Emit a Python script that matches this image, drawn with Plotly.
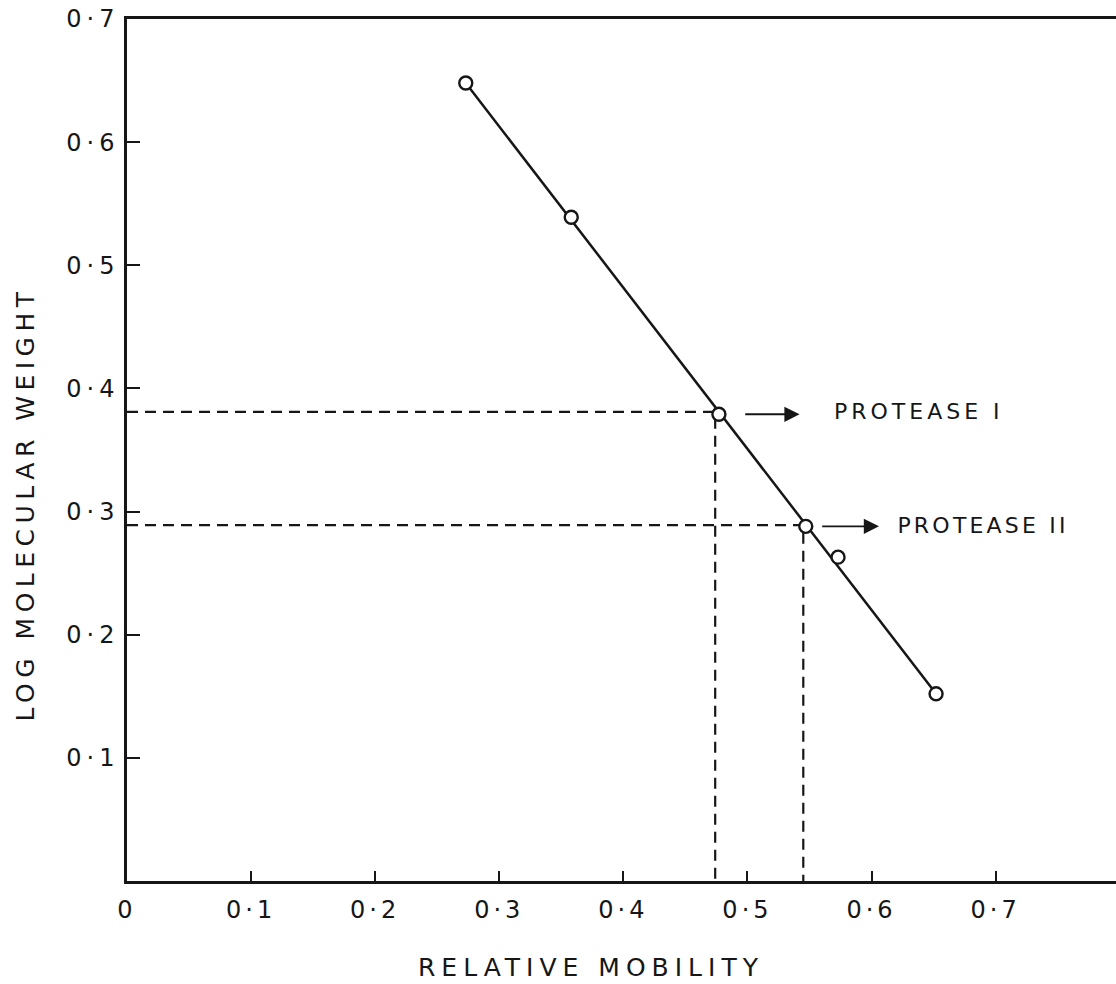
import plotly.graph_objects as go

# Calibration standards and the two proteases (relative mobility vs log molecular weight)
mobility = [0.273, 0.358, 0.477, 0.547, 0.573, 0.652]
log_mw = [0.648, 0.539, 0.379, 0.288, 0.263, 0.152]

# Read-off values for the two proteases
protease_names = ["PROTEASE I", "PROTEASE II"]
protease_mobility = [0.474, 0.545]
protease_log_mw = [0.381, 0.289]

x_ticks = [0, 0.1, 0.2, 0.3, 0.4, 0.5, 0.6, 0.7]
x_ticktext = ["0", "0·1", "0·2", "0·3", "0·4", "0·5", "0·6", "0·7"]
y_ticks = [0.1, 0.2, 0.3, 0.4, 0.5, 0.6, 0.7]
y_ticktext = ["0·1", "0·2", "0·3", "0·4", "0·5", "0·6", "0·7"]

x_title = "RELATIVE MOBILITY"
y_title = "LOG MOLECULAR WEIGHT"

INK = "#161616"
FONT = "DejaVu Sans"

fig = go.Figure()

# dashed read-off guides: from the y axis across to the line, then down to the x axis
for xm, ym in zip(protease_mobility, protease_log_mw):
    fig.add_trace(go.Scatter(
        x=[0, xm, xm], y=[ym, ym, 0], mode="lines",
        line=dict(color=INK, width=2.2, dash="11px,7px"),
        hoverinfo="skip",
    ))

# straight calibration line between the outermost standards
fig.add_trace(go.Scatter(
    x=[mobility[0], mobility[-1]], y=[log_mw[0], log_mw[-1]], mode="lines",
    line=dict(color=INK, width=2.5), hoverinfo="skip",
))

# open-circle data points
fig.add_trace(go.Scatter(
    x=mobility, y=log_mw, mode="markers",
    marker=dict(symbol="circle", size=13, color="white",
                line=dict(color=INK, width=2.4)),
))

# axis titles as annotations (indices 0 and 1)
fig.add_annotation(
    x=0.470, y=-0.0998, xref="paper", yref="paper", text=x_title,
    showarrow=False, xanchor="center", yanchor="middle",
    font=dict(family=FONT, size=25, color=INK),
)
fig.add_annotation(
    x=-0.1031, y=0.438, xref="paper", yref="paper", text=y_title,
    textangle=-90, showarrow=False, xanchor="center", yanchor="middle",
    font=dict(family=FONT, size=25, color=INK),
)

# arrows and labels for the proteases
arrow_start = [0.020, 0.012]
arrow_len = [0.045, 0.047]
label_gap = [0.026, 0.013]
label_spacing = [4.0, 3.2]   # letter spacing of each label, px
for i, name in enumerate(protease_names):
    x0 = mobility[2 + i] + arrow_start[i]
    x1 = x0 + arrow_len[i]
    yv = log_mw[2 + i]
    fig.add_annotation(
        x=x1, y=yv, ax=x0, ay=yv, xref="x", yref="y", axref="x", ayref="y",
        text="", showarrow=True, arrowhead=2, arrowsize=1.6,
        arrowwidth=1.9, arrowcolor=INK,
    )
    fig.add_annotation(
        x=x1 + label_gap[i], y=protease_log_mw[i], xref="x", yref="y",
        text=name, showarrow=False, xanchor="left", yanchor="middle",
        xshift=label_spacing[i] * len(name) / 2,
        font=dict(family=FONT, size=22, color=INK),
    )

axis_common = dict(
    showgrid=False, zeroline=False, showline=True, linecolor=INK,
    linewidth=2.5, ticks="inside", tickcolor=INK, tickwidth=2,
    tickfont=dict(family=FONT, size=24, color=INK),
)

fig.update_layout(
    width=1116, height=984,
    margin=dict(l=127, r=0, t=19, b=103),
    paper_bgcolor="white", plot_bgcolor="white",
    showlegend=False,
    font=dict(family=FONT, color=INK),
    xaxis=dict(
        range=[0, 0.797], tickmode="array", tickvals=x_ticks,
        ticktext=x_ticktext, ticklen=10, mirror=True,
        ticklabelstandoff=5,
        **axis_common,
    ),
    yaxis=dict(
        range=[0, 0.7], tickmode="array", tickvals=y_ticks,
        ticktext=y_ticktext, ticklen=13, mirror=False,
        **axis_common,
    ),
)

# widely spaced lettering
spacing_css = (
    "var s=document.createElement('style');"
    "s.textContent='.xtick text{letter-spacing:4px}"
    ".ytick text{letter-spacing:5px}"
    ".annotation-text{letter-spacing:4px}"
    ".annotation[data-index=\"0\"] .annotation-text{letter-spacing:6px}"
    ".annotation[data-index=\"1\"] .annotation-text{letter-spacing:5.5px}"
    ".annotation[data-index=\"5\"] .annotation-text{letter-spacing:3.2px}';"
    "document.head.appendChild(s);"
)

fig.write_html("out.html", post_script=spacing_css)
